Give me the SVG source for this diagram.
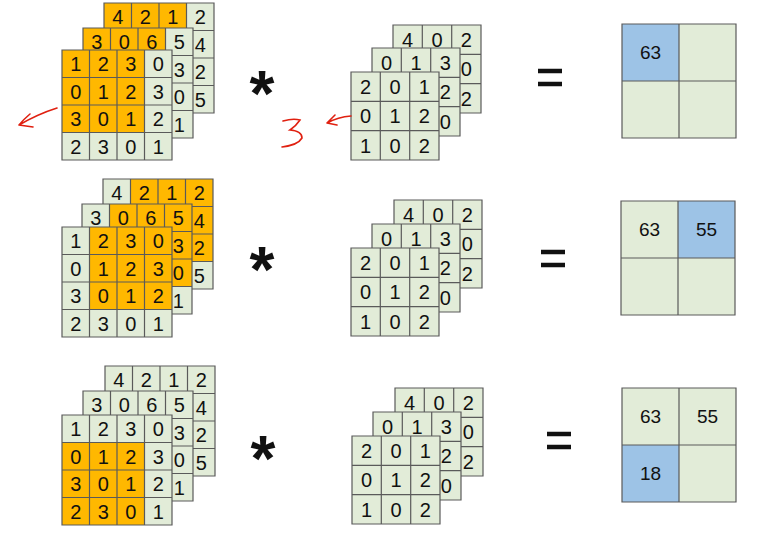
<svg xmlns="http://www.w3.org/2000/svg" xmlns:xlink="http://www.w3.org/1999/xlink" width="783" height="549" viewBox="0 0 783 549">
<style>
text{font-family:"Liberation Sans",Arial,sans-serif;fill:#111;text-anchor:middle}
.n{font-size:20px}
.o{font-size:19px}
.or{fill:#ffb800;stroke:none}
.bl{fill:#9dc3e6}
.op{font-size:64px;font-weight:bold}
.red{fill:none;stroke:#e02010;stroke-width:1.6;stroke-linecap:round}
</style>
<defs>
<rect id="b4" width="110" height="110" fill="#e2ecd8"/>
<path id="l4" d="M0 0H110V110H0Z M27.5 0V110M55 0V110M82.5 0V110M0 27.5H110M0 55H110M0 82.5H110" fill="none" stroke="#5a5a5a" stroke-width="1.2"/>
<g id="k3"><rect width="88" height="88" fill="#e2ecd8"/><path d="M0 0H88V88H0Z M29.3 0V88M58.7 0V88M0 29.3H88M0 58.7H88" fill="none" stroke="#5a5a5a" stroke-width="1.2"/></g>
<g id="o2"><rect width="114" height="114" fill="#e2ecd8"/></g>
<path id="ol" d="M0 0H114V114H0Z M57 0V114M0 57H114" fill="none" stroke="#5a5a5a" stroke-width="1.2"/>
</defs>

<!-- Row 1 input -->
<g id="in1-back" transform="translate(104,3)" class="n"><use href="#b4"/><rect class="or" width="82.5" height="27.5"/><use href="#l4"/>
<text x="13.75" y="21">4</text><text x="41.25" y="21">2</text><text x="68.75" y="21">1</text><text x="96.25" y="21">2</text><text x="96.25" y="48.5">4</text><text x="96.25" y="76">2</text><text x="96.25" y="103.5">5</text></g>
<g id="in1-mid" transform="translate(83,28)" class="n"><use href="#b4"/><rect class="or" width="82.5" height="27.5"/><use href="#l4"/>
<text x="13.75" y="21">3</text><text x="41.25" y="21">0</text><text x="68.75" y="21">6</text><text x="96.25" y="21">5</text><text x="96.25" y="48.5">3</text><text x="96.25" y="76">0</text><text x="96.25" y="103.5">1</text></g>
<g id="in1-front" transform="translate(62,50)" class="n"><use href="#b4"/><rect class="or" width="82.5" height="82.5"/><use href="#l4"/>
<text x="13.75" y="21">1</text><text x="41.25" y="21">2</text><text x="68.75" y="21">3</text><text x="96.25" y="21">0</text>
<text x="13.75" y="48.5">0</text><text x="41.25" y="48.5">1</text><text x="68.75" y="48.5">2</text><text x="96.25" y="48.5">3</text>
<text x="13.75" y="76">3</text><text x="41.25" y="76">0</text><text x="68.75" y="76">1</text><text x="96.25" y="76">2</text>
<text x="13.75" y="103.5">2</text><text x="41.25" y="103.5">3</text><text x="68.75" y="103.5">0</text><text x="96.25" y="103.5">1</text></g>

<!-- Row 2 input -->
<g id="in2-back" transform="translate(103,179)" class="n"><use href="#b4"/><rect class="or" x="27.5" width="82.5" height="27.5"/><rect class="or" x="82.5" y="27.5" width="27.5" height="55"/><use href="#l4"/>
<text x="13.75" y="21">4</text><text x="41.25" y="21">2</text><text x="68.75" y="21">1</text><text x="96.25" y="21">2</text><text x="96.25" y="48.5">4</text><text x="96.25" y="76">2</text><text x="96.25" y="103.5">5</text></g>
<g id="in2-mid" transform="translate(82,204)" class="n"><use href="#b4"/><rect class="or" x="27.5" width="82.5" height="27.5"/><rect class="or" x="82.5" y="27.5" width="27.5" height="55"/><use href="#l4"/>
<text x="13.75" y="21">3</text><text x="41.25" y="21">0</text><text x="68.75" y="21">6</text><text x="96.25" y="21">5</text><text x="96.25" y="48.5">3</text><text x="96.25" y="76">0</text><text x="96.25" y="103.5">1</text></g>
<g id="in2-front" transform="translate(62,227)" class="n"><use href="#b4"/><rect class="or" x="27.5" width="82.5" height="82.5"/><use href="#l4"/>
<text x="13.75" y="21">1</text><text x="41.25" y="21">2</text><text x="68.75" y="21">3</text><text x="96.25" y="21">0</text>
<text x="13.75" y="48.5">0</text><text x="41.25" y="48.5">1</text><text x="68.75" y="48.5">2</text><text x="96.25" y="48.5">3</text>
<text x="13.75" y="76">3</text><text x="41.25" y="76">0</text><text x="68.75" y="76">1</text><text x="96.25" y="76">2</text>
<text x="13.75" y="103.5">2</text><text x="41.25" y="103.5">3</text><text x="68.75" y="103.5">0</text><text x="96.25" y="103.5">1</text></g>

<!-- Row 3 input -->
<g id="in3-back" transform="translate(105,366)" class="n"><use href="#b4"/><use href="#l4"/>
<text x="13.75" y="21">4</text><text x="41.25" y="21">2</text><text x="68.75" y="21">1</text><text x="96.25" y="21">2</text><text x="96.25" y="48.5">4</text><text x="96.25" y="76">2</text><text x="96.25" y="103.5">5</text></g>
<g id="in3-mid" transform="translate(83,391)" class="n"><use href="#b4"/><use href="#l4"/>
<text x="13.75" y="21">3</text><text x="41.25" y="21">0</text><text x="68.75" y="21">6</text><text x="96.25" y="21">5</text><text x="96.25" y="48.5">3</text><text x="96.25" y="76">0</text><text x="96.25" y="103.5">1</text></g>
<g id="in3-front" transform="translate(62,415)" class="n"><use href="#b4"/><rect class="or" y="27.5" width="82.5" height="82.5"/><use href="#l4"/>
<text x="13.75" y="21">1</text><text x="41.25" y="21">2</text><text x="68.75" y="21">3</text><text x="96.25" y="21">0</text>
<text x="13.75" y="48.5">0</text><text x="41.25" y="48.5">1</text><text x="68.75" y="48.5">2</text><text x="96.25" y="48.5">3</text>
<text x="13.75" y="76">3</text><text x="41.25" y="76">0</text><text x="68.75" y="76">1</text><text x="96.25" y="76">2</text>
<text x="13.75" y="103.5">2</text><text x="41.25" y="103.5">3</text><text x="68.75" y="103.5">0</text><text x="96.25" y="103.5">1</text></g>

<!-- Kernels -->
<g id="k1-back" transform="translate(393,25)" class="n"><use href="#k3"/><text x="14.65" y="22">4</text><text x="43.95" y="22">0</text><text x="73.25" y="22">2</text><text x="73.25" y="51.3">0</text><text x="73.25" y="80.6">2</text></g>
<g id="k1-mid" transform="translate(372,48)" class="n"><use href="#k3"/><text x="14.65" y="22">0</text><text x="43.95" y="22">1</text><text x="73.25" y="22">3</text><text x="73.25" y="51.3">2</text><text x="73.25" y="80.6">0</text></g>
<g id="k1-front" transform="translate(351,72)" class="n"><use href="#k3"/><text x="14.65" y="22">2</text><text x="43.95" y="22">0</text><text x="73.25" y="22">1</text><text x="14.65" y="51.3">0</text><text x="43.95" y="51.3">1</text><text x="73.25" y="51.3">2</text><text x="14.65" y="80.6">1</text><text x="43.95" y="80.6">0</text><text x="73.25" y="80.6">2</text></g>

<g id="k2-back" transform="translate(394,200)" class="n"><use href="#k3"/><text x="14.65" y="22">4</text><text x="43.95" y="22">0</text><text x="73.25" y="22">2</text><text x="73.25" y="51.3">0</text><text x="73.25" y="80.6">2</text></g>
<g id="k2-mid" transform="translate(372,224)" class="n"><use href="#k3"/><text x="14.65" y="22">0</text><text x="43.95" y="22">1</text><text x="73.25" y="22">3</text><text x="73.25" y="51.3">2</text><text x="73.25" y="80.6">0</text></g>
<g id="k2-front" transform="translate(351,248)" class="n"><use href="#k3"/><text x="14.65" y="22">2</text><text x="43.95" y="22">0</text><text x="73.25" y="22">1</text><text x="14.65" y="51.3">0</text><text x="43.95" y="51.3">1</text><text x="73.25" y="51.3">2</text><text x="14.65" y="80.6">1</text><text x="43.95" y="80.6">0</text><text x="73.25" y="80.6">2</text></g>

<g id="k3-back" transform="translate(395,388)" class="n"><use href="#k3"/><text x="14.65" y="22">4</text><text x="43.95" y="22">0</text><text x="73.25" y="22">2</text><text x="73.25" y="51.3">0</text><text x="73.25" y="80.6">2</text></g>
<g id="k3-mid" transform="translate(373,412)" class="n"><use href="#k3"/><text x="14.65" y="22">0</text><text x="43.95" y="22">1</text><text x="73.25" y="22">3</text><text x="73.25" y="51.3">2</text><text x="73.25" y="80.6">0</text></g>
<g id="k3-front" transform="translate(352,436)" class="n"><use href="#k3"/><text x="14.65" y="22">2</text><text x="43.95" y="22">0</text><text x="73.25" y="22">1</text><text x="14.65" y="51.3">0</text><text x="43.95" y="51.3">1</text><text x="73.25" y="51.3">2</text><text x="14.65" y="80.6">1</text><text x="43.95" y="80.6">0</text><text x="73.25" y="80.6">2</text></g>

<!-- Operators -->
<g id="ops">
<text class="op" x="262" y="116">*</text><text class="op" x="262" y="292">*</text><text class="op" x="263" y="481">*</text>
<path d="M538 71H562M538 84H562M541 252H565M541 265H565M547 434H571M547 447H571" stroke="#111" stroke-width="4.5"/>
</g>

<!-- Outputs -->
<g id="out1" transform="translate(622,24)" class="o"><use href="#o2"/><rect class="bl" width="57" height="57"/><use href="#ol"/><text x="28.5" y="35">63</text></g>
<g id="out2" transform="translate(621,201)" class="o"><use href="#o2"/><rect class="bl" x="57" width="57" height="57"/><use href="#ol"/><text x="28.5" y="35">63</text><text x="85.5" y="35">55</text></g>
<g id="out3" transform="translate(622,388)" class="o"><use href="#o2"/><rect class="bl" y="57" width="57" height="57"/><use href="#ol"/><text x="28.5" y="35">63</text><text x="85.5" y="35">55</text><text x="28.5" y="92">18</text></g>

<!-- Red annotations -->
<g id="connectors">
<path class="red" d="M57 108Q38 114 19 125M19 125Q24 119 30 114M19 125Q26 126 33 127"/>
<path class="red" d="M351 116Q338 117 327 123M327 123Q331 119 335 115M327 123Q332 124 337 125"/>
<path class="red" d="M283 121Q293 118 300 120Q296 126 290 130Q302 131 302 138Q298 145 282 147"/>
</g>
</svg>
